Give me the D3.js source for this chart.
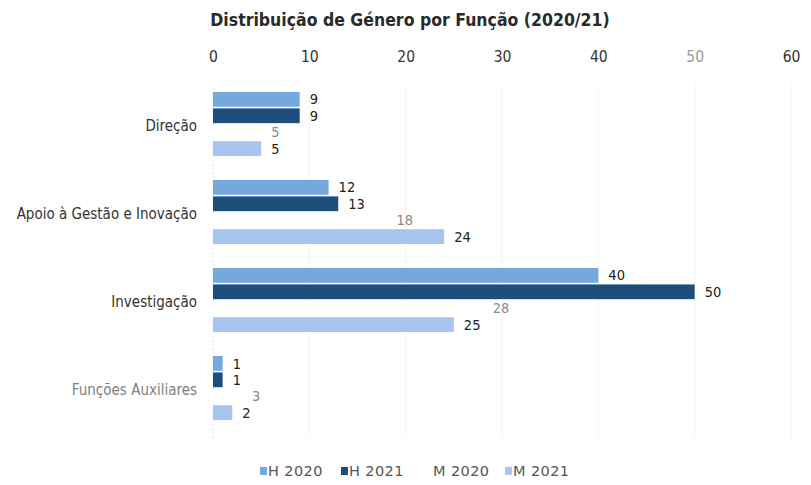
<!DOCTYPE html>
<html>
<head>
<meta charset="utf-8">
<script src="https://cdn.jsdelivr.net/npm/d3@7"></script>
<style>
  body { margin: 0; background: #fff; }
  svg text { font-family: "DejaVu Sans Condensed", "DejaVu Sans", sans-serif; font-stretch: condensed; }
  svg .legend text { font-family: "DejaVu Sans", sans-serif; font-stretch: normal; }
</style>
</head>
<body>
<div id="viz"></div>
<script>
const w = 811;
const h = 485;

// dados
const categories = ['Direção', 'Apoio à Gestão e Inovação', 'Investigação', 'Funções Auxiliares'];
const seriesNames = ['H 2020', 'H 2021', 'M 2020', 'M 2021'];
const h2020 = [9, 12, 40, 1];
const h2021 = [9, 13, 50, 1];
const m2020 = [5, 18, 28, 3];
const m2021 = [5, 24, 25, 2];
const ticks = [0, 10, 20, 30, 40, 50, 60];

const colors = ['#75a9de', '#1d4f7c', '#ffffff', '#a8c5ef'];
const labelColors = ['#222', '#222', '#8a8a8a', '#222'];
const seriesValues = [h2020, h2021, m2020, m2021];

const svg = d3.select('#viz').append('svg')
    .attr('width', w)
    .attr('height', h)

const x = d3.scaleLinear()
    .domain([0, 60])
    .range([213, 791])

const y = d3.scaleBand()
    .domain(categories)
    .range([80, 432])
    .paddingInner(0.273)
    .paddingOuter(0.136)

const yInner = d3.scaleBand()
    .domain(seriesNames)
    .range([0, y.bandwidth()])
    .paddingInner(0.1)

svg.append('text')
    .attr('x', 410)
    .attr('y', 26)
    .attr('text-anchor', 'middle')
    .attr('font-size', 17.5)
    .attr('font-weight', 'bold')
    .attr('fill', '#2a2a2a')
    .text('Distribuição de Género por Função (2020/21)')

// grelha vertical
svg.append('g')
    .selectAll('line')
    .data(ticks.slice(1))
    .join('line')
    .attr('x1', d => x(d))
    .attr('x2', d => x(d))
    .attr('y1', 84)
    .attr('y2', 437)
    .attr('stroke', '#f3f3f3')

svg.append('line')
    .attr('x1', x(0))
    .attr('x2', x(0))
    .attr('y1', 84)
    .attr('y2', 437)
    .attr('stroke', '#c9daf0')
    .attr('stroke-dasharray', '1,3')

const xAxis = svg.append('g')
    .attr('transform', 'translate(0,48)')
    .call(d3.axisTop(x).tickValues(ticks).tickSize(0).tickPadding(0))
xAxis.select('.domain').remove()
xAxis.selectAll('text')
    .attr('font-size', 15.5)
    .attr('dy', '0.9em')
    .attr('fill', d => d === 50 ? '#9a9a9a' : '#333')

const yAxis = svg.append('g')
    .attr('transform', 'translate(197,2)')
    .call(d3.axisLeft(y).tickSize(0).tickPadding(0))
yAxis.select('.domain').remove()
yAxis.selectAll('text')
    .attr('font-size', 15)
    .attr('fill', d => d === 'Funções Auxiliares' ? '#808080' : '#333')

const groups = svg.append('g')
    .selectAll('g')
    .data(categories)
    .join('g')
    .attr('transform', d => `translate(0,${y(d)})`)

groups.selectAll('rect')
    .data((c, i) => seriesNames.map((s, j) => ({ s: s, j: j, v: seriesValues[j][i] })))
    .join('rect')
    .attr('x', x(0))
    .attr('y', d => yInner(d.s))
    .attr('width', d => x(d.v) - x(0))
    .attr('height', yInner.bandwidth())
    .attr('fill', d => colors[d.j])

groups.selectAll('text')
    .data((c, i) => seriesNames.map((s, j) => ({ s: s, j: j, v: seriesValues[j][i] })))
    .join('text')
    .attr('x', d => x(d.v) + 10)
    .attr('y', d => yInner(d.s) + yInner.bandwidth() / 2)
    .attr('dy', '0.35em')
    .attr('font-size', 14.5)
    .attr('fill', d => labelColors[d.j])
    .text(d => d.v)

// legenda
const legendX = [260, 341, 425, 505];
const legend = svg.append('g')
    .attr('class', 'legend')
    .selectAll('g')
    .data(seriesNames)
    .join('g')
    .attr('transform', (d, i) => `translate(${legendX[i]},471)`)

legend.append('rect')
    .attr('x', 0)
    .attr('y', -4)
    .attr('width', 7)
    .attr('height', 8)
    .attr('fill', (d, i) => colors[i])

legend.append('text')
    .attr('x', 8)
    .attr('dy', '0.35em')
    .attr('font-size', 14.5)
    .attr('letter-spacing', 0.4)
    .attr('fill', '#555')
    .text(d => d)
</script>
</body>
</html>
